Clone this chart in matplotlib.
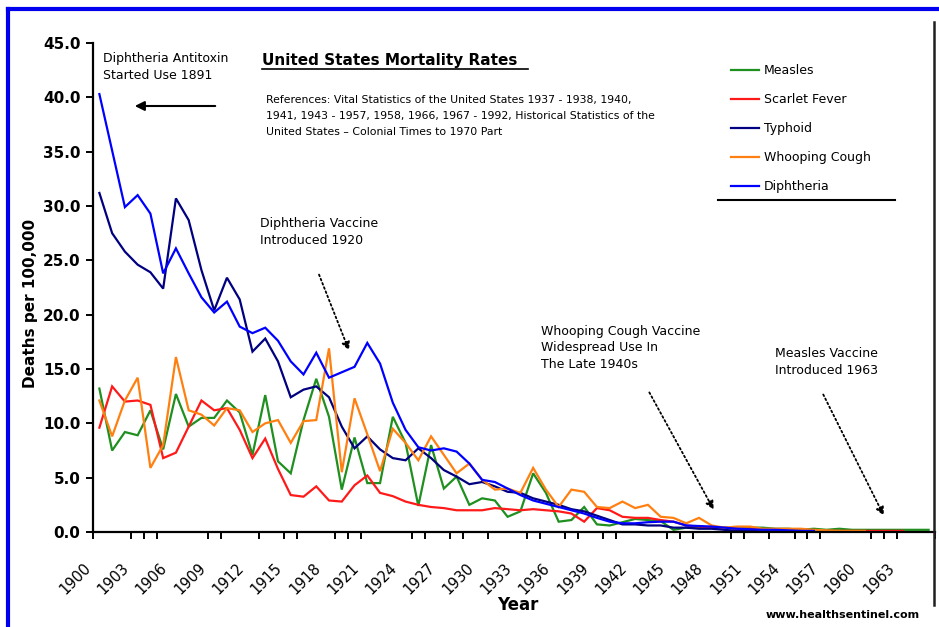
import matplotlib
matplotlib.use("Agg")
import matplotlib.pyplot as plt
from matplotlib.lines import Line2D
from matplotlib.transforms import ScaledTranslation
import numpy as np

years = list(range(1900, 1966))

measles = [13.2, 7.5, 9.2, 8.9, 11.2, 7.6, 12.7, 9.7, 10.5, 10.5,
           12.1, 11.0, 7.1, 12.6, 6.5, 5.4, 10.3, 14.1, 10.6, 3.9,
           8.7, 4.5, 4.5, 10.6, 8.2, 2.4, 8.0, 4.0, 5.1, 2.5,
           3.1, 2.9, 1.4, 1.9, 5.4, 3.6, 0.95, 1.1, 2.3, 0.7,
           0.6, 0.9, 1.2, 1.1, 1.0, 0.2, 0.4, 0.4, 0.4, 0.4,
           0.3, 0.4, 0.4, 0.3, 0.3, 0.2, 0.3, 0.2, 0.3, 0.2,
           0.2, 0.2, 0.2, 0.2, 0.2, 0.2]

scarlet_fever = [9.6, 13.4, 12.0, 12.1, 11.7, 6.8, 7.3, 9.7, 12.1, 11.2,
                 11.4, 9.4, 6.8, 8.6, 5.8, 3.4, 3.25, 4.2, 2.9, 2.8,
                 4.3, 5.2, 3.6, 3.3, 2.8, 2.5, 2.3, 2.2, 2.0, 2.0,
                 2.0, 2.2, 2.1, 2.0, 2.1, 2.0, 1.9, 1.7, 0.95, 2.2,
                 2.0, 1.4, 1.3, 1.3, 1.1, 0.95, 0.6, 0.5, 0.4, 0.4,
                 0.3, 0.3, 0.2, 0.2, 0.2, 0.1, 0.1, 0.1, 0.1, 0.1,
                 0.1, 0.1, 0.1, 0.1, None, None]

typhoid = [31.2, 27.5, 25.8, 24.6, 23.9, 22.4, 30.7, 28.7, 24.1, 20.4,
           23.4, 21.4, 16.6, 17.8, 15.7, 12.4, 13.1, 13.4, 12.4, 9.7,
           7.7, 8.8, 7.6, 6.8, 6.6, 7.7, 6.8, 5.7, 5.1, 4.4,
           4.6, 4.2, 3.7, 3.6, 3.1, 2.8, 2.5, 2.1, 1.9, 1.5,
           1.1, 0.7, 0.7, 0.6, 0.6, 0.4, 0.4, 0.3, 0.3, 0.2,
           0.1, 0.1, 0.05, 0.05, None, None, None, None, None, None,
           None, None, None, None, None, None]

whooping_cough = [12.1, 8.8, 12.1, 14.2, 5.9, 8.0, 16.1, 11.2, 10.8, 9.8,
                  11.4, 11.2, 9.2, 10.0, 10.3, 8.2, 10.2, 10.3, 16.9, 5.5,
                  12.3, 9.0, 5.6, 9.5, 8.2, 6.6, 8.8, 7.1, 5.4, 6.3,
                  4.8, 3.9, 4.0, 3.6, 5.9, 3.9, 2.3, 3.9, 3.7, 2.3,
                  2.2, 2.8, 2.2, 2.5, 1.4, 1.3, 0.8, 1.3, 0.6, 0.4,
                  0.5, 0.5, 0.3, 0.3, 0.3, 0.3, 0.2, 0.15, 0.1, 0.1,
                  0.1, None, None, None, None, None]

diphtheria = [40.3, 35.1, 29.9, 31.0, 29.3, 23.8, 26.1, 23.8, 21.6, 20.2,
              21.2, 18.9, 18.3, 18.8, 17.6, 15.7, 14.5, 16.5, 14.2, 14.7,
              15.2, 17.4, 15.5, 11.9, 9.4, 7.8, 7.5, 7.7, 7.4, 6.3,
              4.8, 4.6, 4.0, 3.4, 2.9, 2.6, 2.3, 2.0, 1.7, 1.3,
              0.95, 0.8, 0.8, 0.9, 0.95, 0.95, 0.6, 0.55, 0.5, 0.4,
              0.3, 0.25, 0.2, 0.2, 0.15, 0.1, 0.1, None, None, None,
              None, None, None, None, None, None]

series_names = ["Measles", "Scarlet Fever", "Typhoid", "Whooping Cough", "Diphtheria"]
series_colors = ["#1f8f1f", "#ff1a1a", "#000080", "#ff8010", "#0000ff"]
series_values = [measles, scarlet_fever, typhoid, whooping_cough, diphtheria]

y_ticks = [0, 5, 10, 15, 20, 25, 30, 35, 40, 45]
label_years = list(range(1900, 1966, 3))
visible_tick_bounds = [0, 3, 4, 5, 9, 10, 13, 15, 16, 19, 20, 21, 25, 26, 28, 29, 31,
                       34, 35, 37, 38, 40, 41, 45, 46, 47, 50, 51, 53, 55, 56, 57,
                       61, 62, 63, 66]

W, H = 939, 627
fig = plt.figure(figsize=(W / 100, H / 100), dpi=100)
fig.patch.set_facecolor("white")

def fx(px):
    return px / W

def fy(py):
    return 1 - py / H

ax = fig.add_axes([fx(93), fy(532), fx(935) - fx(93), fy(43) - fy(532)])
x = np.arange(len(years))
for name, col, vals in zip(series_names, series_colors, series_values):
    arr = np.array([np.nan if v is None else v for v in vals], dtype=float)
    ax.plot(x, arr, color=col, lw=1.6, label=name, solid_joinstyle="miter")

ax.set_xlim(-0.5, len(years) - 0.5)
ax.set_ylim(0, 45)
for s in ["top", "right"]:
    ax.spines[s].set_visible(False)
for s in ["left", "bottom"]:
    ax.spines[s].set_linewidth(1.6)
    ax.spines[s].set_color("black")

ax.set_yticks(y_ticks)
ax.set_yticklabels([f"{v:.1f}" for v in y_ticks], fontsize=11, fontweight="bold")
ax.tick_params(axis="y", length=5, width=1.4, direction="out", pad=4)

ax.set_xticks([b - 0.5 for b in visible_tick_bounds], minor=True)
ax.tick_params(axis="x", which="minor", length=5, width=1.4, direction="out")
ax.set_xticks([years.index(y) for y in label_years])
ax.set_xticklabels([str(y) for y in label_years], rotation=45, ha="right",
                   va="center", rotation_mode="anchor", fontsize=10.5)
ax.tick_params(axis="x", which="major", length=0, pad=24)
for lab in ax.get_xticklabels():
    lab.set_transform(lab.get_transform() + ScaledTranslation(-0.11, 0, fig.dpi_scale_trans))

ax.set_xlabel("Year", fontsize=12, fontweight="bold")
ax.xaxis.set_label_coords((518 - 93) / (935 - 93), -(596 - 532) / (532 - 43))
ax.set_ylabel("Deaths per 100,000", fontsize=11, fontweight="bold")
ax.yaxis.set_label_coords(-(93 - 38) / (935 - 93), (532 - 303) / (532 - 43))

# legend
leg = fig.legend(loc="upper left", bbox_to_anchor=(fx(726), fy(59)), frameon=False,
                 fontsize=9, handlelength=2.2, handletextpad=0.4, labelspacing=1.28,
                 borderaxespad=0)
for l in leg.get_lines():
    l.set_linewidth(1.6)
fig.add_artist(Line2D([fx(718), fx(895)], [fy(200), fy(200)], color="black", lw=1.5))

# right border line and blue frame
fig.add_artist(Line2D([fx(934), fx(934)], [fy(22), fy(605)], color="#202020", lw=1.8))
fig.add_artist(Line2D([fx(8), fx(8)], [fy(9), 0], color="#0000ee", lw=3))
fig.add_artist(Line2D([fx(8), 1], [fy(9), fy(9)], color="#0000ee", lw=3))

# title & source
fig.text(fx(262), fy(60), "United States Mortality Rates", fontsize=11, fontweight="bold",
         va="center", ha="left")
fig.add_artist(Line2D([fx(262), fx(528)], [fy(69), fy(69)], color="black", lw=1.2))
fig.text(fx(266), fy(116),
         "References: Vital Statistics of the United States 1937 - 1938, 1940,\n"
         "1941, 1943 - 1957, 1958, 1966, 1967 - 1992, Historical Statistics of the\n"
         "United States – Colonial Times to 1970 Part",
         fontsize=7.8, va="center", ha="left", linespacing=1.7)

# annotations
fig.text(fx(103), fy(67), "Diphtheria Antitoxin\nStarted Use 1891", fontsize=9,
         va="center", ha="left", linespacing=1.35)
ax.annotate("", xy=(fx(132), fy(106)), xytext=(fx(218), fy(106)),
            xycoords="figure fraction", textcoords="figure fraction",
            arrowprops=dict(arrowstyle="-|>", color="black", lw=1.5, mutation_scale=14))

fig.text(fx(260), fy(232), "Diphtheria Vaccine\nIntroduced 1920", fontsize=9,
         va="center", ha="left", linespacing=1.45)
ax.annotate("", xy=(fx(350), fy(353)), xytext=(fx(318), fy(272)),
            xycoords="figure fraction", textcoords="figure fraction",
            arrowprops=dict(arrowstyle="-|>", color="black", lw=1.3, ls=(0, (1, 1.5)),
                            mutation_scale=12))

fig.text(fx(541), fy(348), "Whooping Cough Vaccine\nWidespread Use In\nThe Late 1940s",
         fontsize=9, va="center", ha="left", linespacing=1.35)
ax.annotate("", xy=(fx(715), fy(512)), xytext=(fx(648), fy(390)),
            xycoords="figure fraction", textcoords="figure fraction",
            arrowprops=dict(arrowstyle="-|>", color="black", lw=1.3, ls=(0, (1, 1.5)),
                            mutation_scale=12))

fig.text(fx(775), fy(362), "Measles Vaccine\nIntroduced 1963", fontsize=9,
         va="center", ha="left", linespacing=1.45)
ax.annotate("", xy=(fx(885), fy(518)), xytext=(fx(822), fy(392)),
            xycoords="figure fraction", textcoords="figure fraction",
            arrowprops=dict(arrowstyle="-|>", color="black", lw=1.3, ls=(0, (1, 1.5)),
                            mutation_scale=12))

fig.text(fx(920), fy(615), "www.healthsentinel.com", fontsize=8, fontweight="bold",
         va="center", ha="right")

fig.savefig("out.png", dpi=100, facecolor="white")
